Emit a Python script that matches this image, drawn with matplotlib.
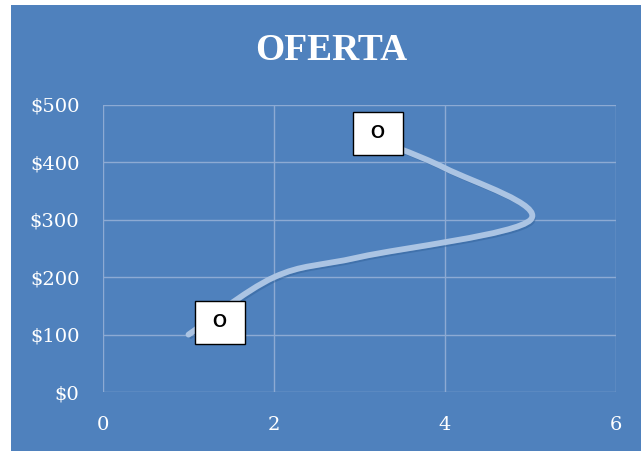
import matplotlib
matplotlib.use("Agg")
import matplotlib.pyplot as plt
import matplotlib.patheffects as pe
from matplotlib.path import Path
from matplotlib.patches import PathPatch, Rectangle
import numpy as np

# Data
cantidad = [1, 2, 3, 5, 4, 3]
precio = [100, 200, 235, 300, 390, 450]
x_ticks = [0, 2, 4, 6]
y_ticks = [0, 100, 200, 300, 400, 500]
y_labels = ["$0", "$100", "$200", "$300", "$400", "$500"]
title = "OFERTA"
point_labels = ["O", "O"]

W, H = 641, 451
fig = plt.figure(figsize=(W / 100, H / 100), dpi=100)
fig.patch.set_facecolor("white")
bg = "#4F81BD"
fig.patches.append(Rectangle((11 / W, 0), 1 - 11 / W, 1 - 5 / H, transform=fig.transFigure,
                             facecolor=bg, edgecolor="none", zorder=-10))

ax = fig.add_axes([103 / W, 59 / H, (616 - 103) / W, (392 - 105) / H])
ax.set_zorder(1)
ax.set_facecolor("none")
ax.set_xlim(0, 6)
ax.set_ylim(0, 500)
ax.set_xticks(x_ticks)
ax.set_yticks(y_ticks)
ax.set_yticklabels(y_labels)
for s in ax.spines.values():
    s.set_visible(False)
ax.grid(True, color="#8DAAD3", linewidth=1.0)
ax.set_axisbelow(True)
ax.tick_params(length=0, colors="white", labelsize=14)
ax.tick_params(axis="y", pad=17)
ax.tick_params(axis="x", pad=17)
for lab in ax.get_xticklabels() + ax.get_yticklabels():
    lab.set_fontfamily("DejaVu Serif")
    lab.set_color("white")

# Smooth line (Catmull-Rom style Bezier, like Excel's smoothed scatter)
P = np.column_stack([cantidad, precio]).astype(float)
n = len(P)
verts = [P[0]]
codes = [Path.MOVETO]
for i in range(n - 1):
    p0 = P[max(i - 1, 0)]
    p1 = P[i]
    p2 = P[i + 1]
    p3 = P[min(i + 2, n - 1)]
    c1 = p1 + (p2 - p0) / 6.0
    c2 = p2 - (p3 - p1) / 6.0
    verts += [c1, c2, p2]
    codes += [Path.CURVE4] * 3
path = Path(verts, codes)
patch = PathPatch(path, facecolor="none", edgecolor="#ABC4E3", linewidth=4.2,
                  capstyle="round", joinstyle="round", zorder=3,
                  path_effects=[pe.SimpleLineShadow(offset=(1.5, -2.5), shadow_color="#2F5F96",
                                                    alpha=0.45, linewidth=1.5),
                                pe.Normal()])
ax.add_patch(patch)

# Data labels
label_idx = [0, n - 1]
offsets = [(23, 9), (13.5, 0)]
for txt, idx, off in zip(point_labels, label_idx, offsets):
    ax.annotate(" " + txt + " ", (cantidad[idx], precio[idx]), xytext=off, textcoords="offset points",
                ha="center", va="center", fontsize=13, fontweight="bold",
                family="Liberation Sans", color="black", zorder=5,
                bbox=dict(boxstyle="square,pad=0.72", facecolor="white", edgecolor="black", linewidth=1))

fig.text(331 / W, 1 - 51 / H, title, ha="center", va="center", color="white",
         fontsize=27, fontweight="bold", family="Liberation Serif")

fig.savefig("out.png", dpi=100, facecolor=fig.get_facecolor())
